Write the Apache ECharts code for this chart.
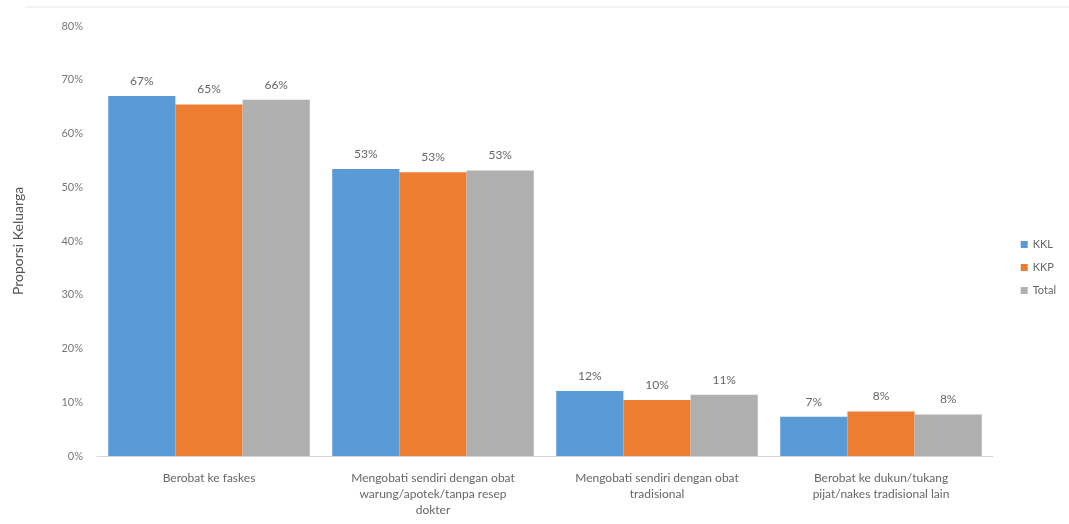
<!DOCTYPE html>
<html>
<head>
<meta charset="utf-8">
<script src="https://cdn.jsdelivr.net/npm/echarts@6/dist/echarts.min.js"></script>
<style>html,body{margin:0;padding:0;background:#fff;}#c{width:1069px;height:524px;}</style>
</head>
<body>
<div id="c"></div>
<script>
const categories = [
  "Berobat ke faskes",
  "Mengobati sendiri dengan obat\nwarung/apotek/tanpa resep\ndokter",
  "Mengobati sendiri dengan obat\ntradisional",
  "Berobat ke dukun/tukang\npijat/nakes tradisional lain"
];
const seriesNames = ["KKL", "KKP", "Total"];
const kkl = [67.0, 53.4, 12.1, 7.3];
const kkp = [65.4, 52.8, 10.4, 8.3];
const total = [66.3, 53.1, 11.4, 7.7];
const colors = ["#5B9BD5", "#ED7D31", "#B0B0B0"];
const FONT = "Lato";

const chart = echarts.init(document.getElementById('c'));
const mk = (name, data, color) => ({
  name, type: 'bar', data,
  itemStyle: { color },
  barGap: '0%', barCategoryGap: '10%',
  label: { show: true, position: 'top', distance: 9, color: '#666', fontSize: 12, fontFamily: FONT,
    formatter: p => Math.round(p.value) + '%' }
});
chart.setOption({
  backgroundColor: '#fff',
  animation: false,
  textStyle: { fontFamily: FONT },
  grid: { left: 97, right: 76, top: 26, bottom: 68 },
  legend: {
    orient: 'vertical', right: 8, top: 234, itemWidth: 7, itemHeight: 7, itemGap: 12,
    icon: 'rect', textStyle: { color: '#666', fontSize: 11, fontFamily: FONT },
    data: seriesNames
  },
  xAxis: {
    type: 'category', data: categories,
    axisLine: { show: true, lineStyle: { color: '#d9d9d9' } },
    axisTick: { show: false },
    axisLabel: { color: '#666', fontSize: 12, fontFamily: FONT, lineHeight: 16, margin: 14, interval: 0 }
  },
  yAxis: {
    type: 'value', min: 0, max: 80, interval: 10,
    name: 'Proporsi Keluarga', nameLocation: 'middle', nameGap: 72, nameRotate: 90,
    nameTextStyle: { color: '#555', fontSize: 14, fontFamily: FONT },
    axisLine: { show: false }, axisTick: { show: false },
    splitLine: { show: false },
    axisLabel: { color: '#777', fontSize: 11, fontFamily: FONT, margin: 14, formatter: v => v + '%' }
  },
  graphic: [{ type: 'line', shape: { x1: 25, y1: 7, x2: 1069, y2: 7 }, style: { stroke: '#e6e6e6', lineWidth: 1 } }],
  series: [mk(seriesNames[0], kkl, colors[0]), mk(seriesNames[1], kkp, colors[1]), mk(seriesNames[2], total, colors[2])]
});
</script>
</body>
</html>
